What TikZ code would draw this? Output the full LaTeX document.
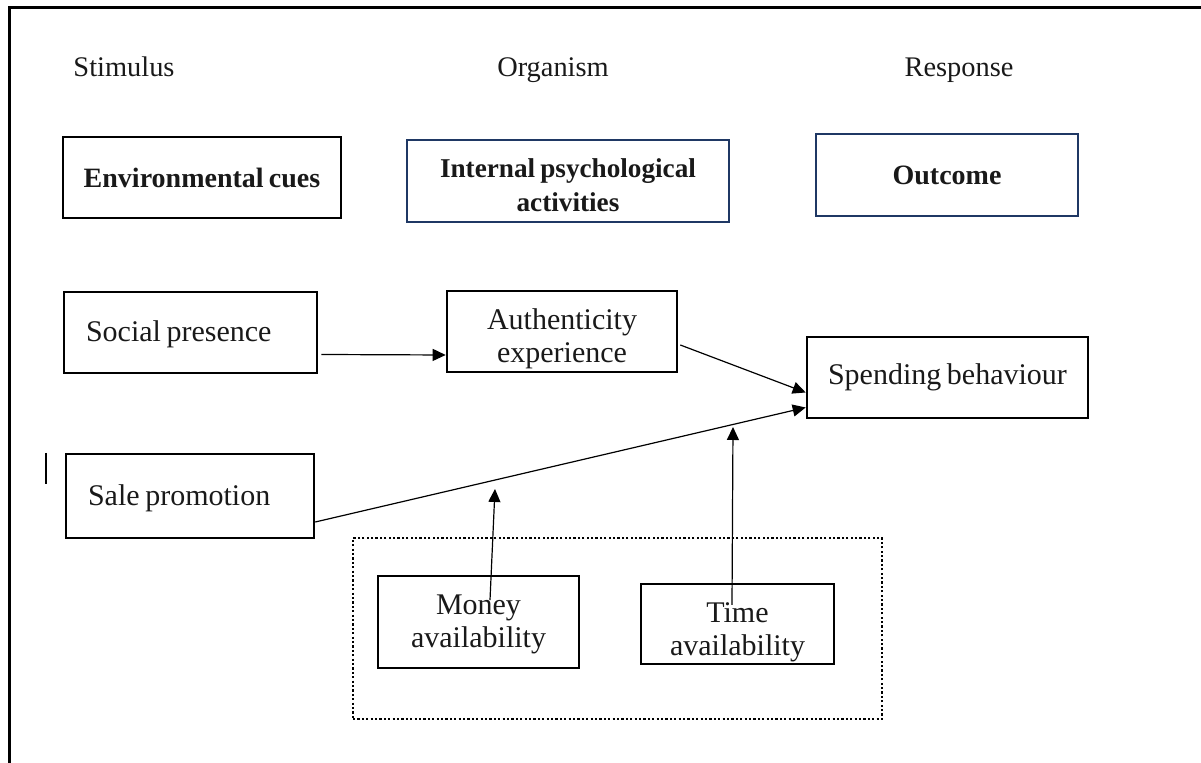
\documentclass[tikz,border=0pt]{standalone}
\usepackage{fontspec}
\setmainfont[WordSpace=0.75]{Liberation Serif}
\usetikzlibrary{arrows.meta}
\definecolor{navy}{HTML}{1F3864}
\tikzset{
  hdr/.style={font=\fontsize{14.2}{17}\selectfont, text=black!90, anchor=base},
  box/.style={draw=black, line width=1.3pt, rectangle, align=center, inner sep=0pt,
    font=\fontsize{15}{16.5}\selectfont, text=black!90},
  bbox/.style={box, font=\bfseries\fontsize{14}{17}\selectfont},
  nbox/.style={bbox, draw=navy},
  lbox/.style={box, align=left, inner xsep=11pt},
  arr/.style={line width=0.6pt, -{Triangle[length=6.5pt,width=6pt]}},
  modbox/.style={draw=black, line width=1.2pt, dash pattern=on 1.1pt off 1.1pt, rectangle, inner sep=0pt}
}
\begin{document}
\begin{tikzpicture}[x=0.5pt,y=-0.5pt]
\useasboundingbox (0,0) rectangle (1201,763);
% outer frame (top and left only)
\draw[line width=1.5pt] (9,763) -- (9,8) -- (1201,8);
\draw[line width=0.6pt] (46,453) -- (46,484);

% headers
\node[hdr] (stim) at (124,77) {Stimulus};
\node[hdr] (org) at (553,77) {Organism};
\node[hdr] (resp) at (959,77) {Response};

% top boxes
\node[bbox, minimum width=139pt, minimum height=40.5pt] (env) at (202,177.5) {Environmental cues};
\node[nbox, minimum width=161pt, minimum height=41pt, font=\bfseries\fontsize{13.6}{17}\selectfont] (ipa) at (568,181) {\rule{0pt}{13.5pt}Internal psychological\\activities};
\node[nbox, minimum width=131pt, minimum height=41pt] (out) at (947,175) {Outcome};

% model boxes
\node[lbox, text width=104.5pt, minimum height=40.5pt] (sp) at (190.5,332.5) {\spaceskip=0pt\relax\rule{0pt}{12.5pt}Social presence};
\node[lbox, text width=102pt, minimum height=42pt] (sale) at (190,496) {\spaceskip=0pt\relax\rule{0pt}{13pt}Sale promotion};
\node[box, minimum width=115pt, minimum height=40.5pt] (auth) at (562,331.5) {\rule{0pt}{18pt}Authenticity\\experience};
\node[box, minimum width=140.5pt, minimum height=40.5pt] (spend) at (947.5,377.5) {Spending behaviour};

% moderators
\node[modbox, minimum width=264.5pt, minimum height=90.5pt] (mod) at (617.5,628.5) {};
\node[box, minimum width=100.5pt, minimum height=46pt] (money) at (478.5,622) {\rule{0pt}{12pt}Money\\availability};
\node[box, minimum width=96.5pt, minimum height=40pt] (time) at (737.5,624) {\rule{0pt}{18pt}Time\\availability};

% free ends
\coordinate (mtip) at (495,489);
\coordinate (ttip) at (733,427);

% connectors
\draw[arr] ([xshift=1.5pt,yshift=-11pt]sp.east) -- ([yshift=-11.75pt]auth.west);
\draw[arr] ([xshift=1pt,yshift=-6.75pt]auth.east) -- ([yshift=-7.5pt]spend.west);
\draw[arr] ([yshift=-13pt]sale.east) -- ([yshift=-15pt]spend.west);
\draw[arr] ([xshift=5.75pt,yshift=11pt]money.center) -- (mtip);
\draw[arr] ([xshift=-2.75pt,yshift=9.5pt]time.center) -- (ttip);
\end{tikzpicture}
\end{document}
